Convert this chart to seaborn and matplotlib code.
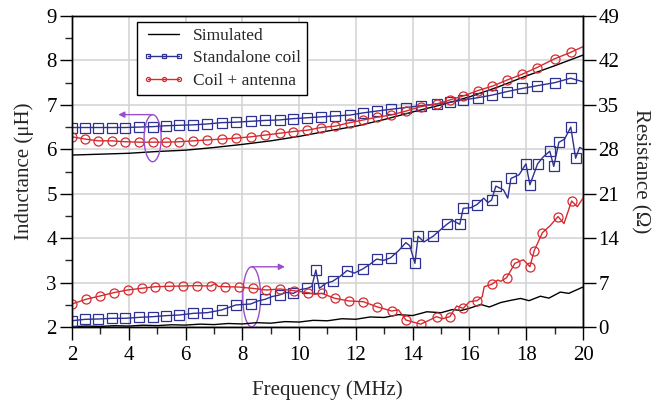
"""Inductance and resistance vs frequency: simulated, standalone coil, coil + antenna"""

import matplotlib
matplotlib.use("Agg")
import matplotlib.pyplot as plt
import seaborn as sns
from matplotlib.patches import Ellipse
from matplotlib.ticker import MultipleLocator

sns.set_theme(style="ticks")
plt.rcParams["font.family"] = ["Liberation Serif", "DejaVu Serif"]

BLUE = "#2e3192"
RED = "#d52b30"
PURPLE = "#9a4dcc"

# Inductance (left axis), marker sweep points; last point (20 MHz) has no marker
ind_freq = [2.00, 2.46, 2.93, 3.40, 3.87, 4.37, 4.86, 5.31, 5.78, 6.27, 6.77, 7.27,
            7.77, 8.29, 8.80, 9.31, 9.80, 10.29, 10.77, 11.26, 11.79, 12.26, 12.73,
            13.23, 13.76, 14.29, 14.84, 15.31, 15.78, 16.29, 16.80, 17.33, 17.86,
            18.38, 19.01, 19.56, 20.00]
ind_coil = [6.49, 6.49, 6.49, 6.49, 6.49, 6.50, 6.51, 6.53, 6.54, 6.55, 6.57, 6.60,
            6.61, 6.63, 6.65, 6.66, 6.69, 6.71, 6.73, 6.75, 6.77, 6.82, 6.86, 6.90,
            6.94, 6.98, 7.02, 7.06, 7.11, 7.16, 7.22, 7.30, 7.37, 7.43, 7.50, 7.60, 7.52]
ind_ant = [6.28, 6.23, 6.19, 6.19, 6.17, 6.16, 6.16, 6.16, 6.17, 6.19, 6.21, 6.23,
           6.25, 6.28, 6.32, 6.36, 6.40, 6.43, 6.49, 6.52, 6.60, 6.66, 6.72, 6.77,
           6.86, 6.96, 7.02, 7.11, 7.20, 7.32, 7.42, 7.56, 7.69, 7.84, 8.04, 8.18, 8.31]
sim_ind_freq = [2, 3, 4, 5, 6, 7, 8, 9, 10, 11, 12, 13, 14, 15, 16, 17, 18, 19, 20]
sim_ind = [5.87, 5.89, 5.91, 5.95, 5.98, 6.04, 6.11, 6.19, 6.29, 6.41, 6.52, 6.67,
           6.84, 7.00, 7.18, 7.40, 7.65, 7.88, 8.12]

# Resistance (right axis); *_mark = 1 where a marker is drawn
res_coil_freq = [2.00, 2.46, 2.93, 3.40, 3.87, 4.37, 4.86, 5.31, 5.78, 6.27, 6.77, 7.27,
                 7.50, 7.77, 8.29, 8.55, 8.80, 9.05, 9.31, 9.55, 9.80, 10.05, 10.29,
                 10.45, 10.59, 10.71, 10.95, 11.18, 11.45, 11.69, 11.95, 12.24, 12.50,
                 12.73, 12.98, 13.22, 13.50, 13.76, 13.90, 14.08, 14.19, 14.40, 14.72,
                 14.95, 15.21, 15.40, 15.66, 15.78, 16.05, 16.27, 16.50, 16.65, 16.78,
                 16.93, 17.20, 17.35, 17.46, 17.75, 17.99, 18.13, 18.40, 18.60, 18.83,
                 18.97, 19.15, 19.35, 19.57, 19.74, 19.88, 20.00]
res_coil = [0.99, 1.21, 1.26, 1.37, 1.37, 1.52, 1.63, 1.79, 1.89, 2.15, 2.26, 2.68,
            3.05, 3.47, 3.62, 4.10, 4.36, 4.80, 5.04, 5.45, 5.30, 5.90, 6.09,
            6.40, 8.98, 6.09, 6.90, 7.20, 8.00, 8.90, 8.50, 9.14, 9.90,
            10.70, 10.50, 10.90, 12.00, 13.29, 12.80, 10.03, 14.30, 13.40, 14.30,
            15.20, 16.20, 16.80, 16.18, 18.70, 18.80, 19.30, 20.30, 19.60, 20.00,
            22.20, 21.60, 20.30, 23.40, 24.00, 25.70, 22.40, 25.70, 26.80, 27.70,
            25.30, 29.10, 29.60, 31.50, 26.60, 28.30, 28.00]
res_coil_mark = [1, 1, 1, 1, 1, 1, 1, 1, 1, 1, 1, 1,
                 0, 1, 1, 0, 1, 0, 1, 0, 1, 0, 1,
                 0, 1, 1, 0, 1, 0, 1, 0, 1, 0,
                 1, 0, 1, 0, 1, 0, 1, 1, 0, 1,
                 0, 1, 0, 1, 1, 0, 1, 0, 0, 1,
                 1, 0, 0, 1, 0, 1, 1, 1, 0, 1,
                 1, 1, 0, 1, 1, 0, 0]

res_ant_freq = [2.00, 2.49, 2.98, 3.47, 3.96, 4.45, 4.93, 5.42, 5.91, 6.40, 6.89, 7.05,
                7.15, 7.38, 7.87, 8.36, 8.85, 9.33, 9.82, 10.31, 10.55, 10.80, 11.26,
                11.76, 12.26, 12.73, 13.26, 13.50, 13.76, 14.28, 14.55, 14.84, 15.05,
                15.31, 15.55, 15.78, 16.00, 16.27, 16.45, 16.52, 16.78, 17.00, 17.10,
                17.31, 17.60, 17.90, 18.13, 18.28, 18.57, 18.85, 19.12, 19.33, 19.60,
                19.80, 20.00]
res_ant = [3.62, 4.36, 4.88, 5.41, 5.83, 6.09, 6.35, 6.41, 6.46, 6.51, 6.46, 6.85,
           6.40, 6.35, 6.30, 6.09, 5.83, 5.99, 5.72, 5.41, 5.15, 5.30, 4.52,
           4.10, 3.99, 3.20, 2.52, 2.70, 1.10, 0.45, 1.00, 1.63, 1.30,
           1.63, 3.31, 2.94, 3.99, 4.15, 4.78, 6.35, 6.72, 7.40, 7.20,
           7.77, 10.03, 10.60, 9.50, 12.02, 14.86, 16.00, 17.40, 16.30, 19.85,
           18.96, 20.30]
res_ant_mark = [1, 1, 1, 1, 1, 1, 1, 1, 1, 1, 1, 0,
                0, 1, 1, 1, 1, 1, 1, 1, 0, 1, 1,
                1, 1, 1, 1, 0, 1, 1, 0, 1, 0,
                1, 0, 1, 0, 1, 0, 0, 1, 0, 0,
                1, 1, 0, 1, 1, 1, 0, 1, 0, 1,
                0, 0]

sim_res_freq = [2.0, 2.5, 3.0, 3.5, 4.0, 4.5, 5.0, 5.5, 6.0, 6.5, 7.0, 7.5, 8.0, 8.5,
                9.0, 9.5, 10.0, 10.5, 11.0, 11.5, 12.0, 12.5, 13.0, 13.5, 14.0, 14.5,
                15.0, 15.4, 15.7, 16.0, 16.4, 16.7, 17.1, 17.4, 17.8, 18.1, 18.5,
                18.8, 19.2, 19.5, 20.0]
sim_res = [0.05, 0.15, 0.10, 0.20, 0.15, 0.28, 0.22, 0.35, 0.30, 0.45, 0.38, 0.55,
           0.48, 0.68, 0.60, 0.85, 0.78, 1.05, 0.98, 1.30, 1.22, 1.58, 1.50, 1.95,
           1.80, 2.40, 2.25, 2.75, 2.60, 2.95, 3.55, 3.15, 3.85, 4.15, 4.50, 4.15,
           4.85, 4.55, 5.50, 5.30, 6.30]

fig = plt.figure(figsize=(6.55, 4.07), dpi=100)
ax = fig.add_axes([72 / 655, 1 - 327 / 407, 511 / 655, 311 / 407])
ax2 = ax.twinx()

mk = dict(markersize=6.5, markerfacecolor="none", markeredgewidth=0.9)
ind_marks = list(range(len(ind_freq) - 1))

sns.lineplot(x=sim_ind_freq, y=sim_ind, ax=ax, color="black", linewidth=1.0,
             estimator=None, label="Simulated")
sns.lineplot(x=ind_freq, y=ind_coil, ax=ax, color=BLUE, linewidth=1.0, marker="s",
             markeredgecolor=BLUE, markevery=ind_marks, estimator=None,
             label="Standalone coil", **mk)
sns.lineplot(x=ind_freq, y=ind_ant, ax=ax, color=RED, linewidth=1.0, marker="o",
             markeredgecolor=RED, markevery=ind_marks, estimator=None,
             label="Coil + antenna", **mk)

sns.lineplot(x=sim_res_freq, y=sim_res, ax=ax2, color="black", linewidth=1.0,
             estimator=None, legend=False)
sns.lineplot(x=res_coil_freq, y=res_coil, ax=ax2, color=BLUE, linewidth=1.0, marker="s",
             markeredgecolor=BLUE, markevery=[m == 1 for m in res_coil_mark],
             estimator=None, legend=False, **mk)
sns.lineplot(x=res_ant_freq, y=res_ant, ax=ax2, color=RED, linewidth=1.0, marker="o",
             markeredgecolor=RED, markevery=[m == 1 for m in res_ant_mark],
             estimator=None, legend=False, **mk)

# axes
ax.set_xlim(2, 20)
ax.set_ylim(2, 9)
ax2.set_ylim(0, 49)
ax.set_xticks(range(2, 21, 2))
ax.set_yticks(range(2, 10))
ax2.set_yticks(range(0, 50, 7))
ax.xaxis.set_minor_locator(MultipleLocator(1))
ax.yaxis.set_minor_locator(MultipleLocator(0.5))
for a in (ax, ax2):
    a.tick_params(which="major", direction="out", length=9, width=1,
                  labelsize=15, pad=2, colors="black")
    a.tick_params(which="minor", direction="out", length=5, width=1)
    for s in a.spines.values():
        s.set_color("black")
        s.set_linewidth(1.0)
ax.tick_params(axis="x", which="both", top=False, pad=5)
ax.grid(True, which="major", color="#d2d2d2", linewidth=1.1)
ax2.grid(False)
ax.set_axisbelow(True)

ax.set_xlabel("Frequency (MHz)", fontsize=15, labelpad=11)
ax.set_ylabel("Inductance (μH)", fontsize=15, labelpad=9)
ax2.set_ylabel("Resistance (Ω)", fontsize=15, rotation=270, labelpad=22)

# annotation ellipses + arrows
ax2.add_patch(Ellipse((4.84, 6.25), 0.6, 1.06, transform=ax.transData, fill=False,
                      edgecolor=PURPLE, linewidth=1.0))
ax2.add_patch(Ellipse((8.33, 2.68), 0.63, 1.35, transform=ax.transData, fill=False,
                      edgecolor=PURPLE, linewidth=1.0))
arrow = dict(arrowstyle="-|>", color=PURPLE, lw=1.0, mutation_scale=9,
             shrinkA=0, shrinkB=0)
ax.annotate("", xy=(3.63, 6.78), xytext=(4.84, 6.78), arrowprops=arrow)
ax.annotate("", xy=(9.5, 3.355), xytext=(8.33, 3.355), arrowprops=arrow)

leg = ax.legend(loc="upper left", bbox_to_anchor=(0.127, 0.981), fontsize=12.5,
                frameon=True, fancybox=False, framealpha=1, edgecolor="black",
                markerscale=0.45, numpoints=3, handlelength=2.4, handletextpad=0.5,
                labelspacing=0.35, borderpad=0.35, borderaxespad=0)
leg.get_frame().set_linewidth(1.0)
leg.set_zorder(10)

plt.savefig("out.png", dpi=100)
plt.close()
